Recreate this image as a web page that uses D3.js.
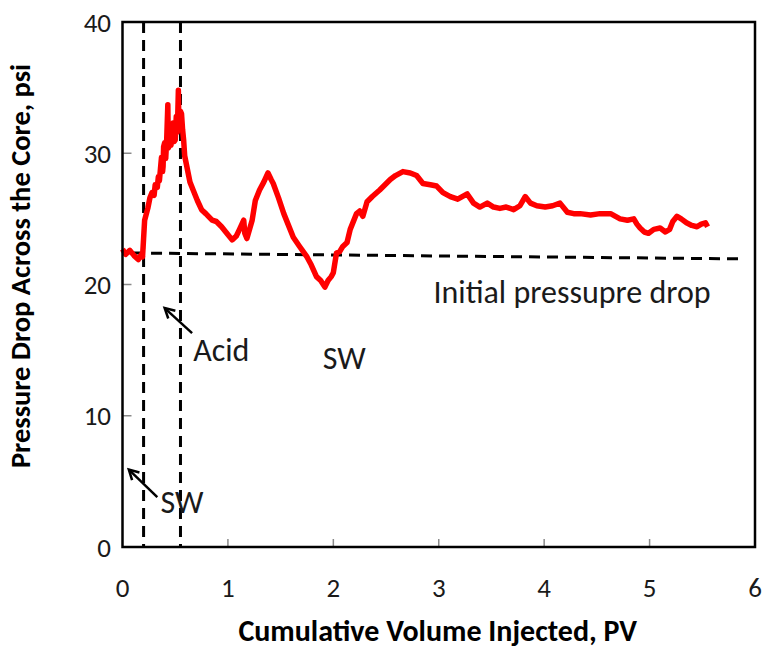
<!DOCTYPE html>
<html>
<head>
<meta charset="utf-8" />
<title>Pressure drop</title>
<script src="https://d3js.org/d3.v7.min.js"></script>
<style>
  body { margin: 0; background: #fff; }
  text { font-family: Carlito, Lato, "Noto Sans", sans-serif; fill: #1a1a1a; }
</style>
</head>
<body>
<div id="chart"></div>
<script>
// cumulative volume injected (PV) and pressure drop (psi)
var pv = [0.00,0.03,0.07,0.11,0.15,0.18,0.19,0.20,0.21,0.24,0.26,0.28,0.30,0.31,0.33,0.34,0.35,0.36,0.37,0.38,0.385,0.39,0.40,0.41,0.42,0.43,0.435,0.44,0.45,0.46,0.47,0.48,0.49,0.50,0.51,0.52,0.53,0.535,0.54,0.55,0.56,0.57,0.58,0.59,0.61,0.64,0.67,0.71,0.75,0.79,0.85,0.89,0.94,0.98,1.04,1.08,1.11,1.15,1.16,1.18,1.23,1.26,1.30,1.34,1.38,1.41,1.43,1.48,1.53,1.57,1.62,1.68,1.75,1.79,1.84,1.88,1.92,1.95,1.98,2.00,2.03,2.06,2.09,2.13,2.16,2.22,2.25,2.28,2.32,2.37,2.44,2.49,2.54,2.59,2.66,2.73,2.79,2.85,2.92,2.98,3.04,3.11,3.18,3.27,3.33,3.39,3.46,3.52,3.58,3.64,3.71,3.77,3.82,3.87,3.93,4.01,4.08,4.15,4.22,4.28,4.34,4.44,4.53,4.63,4.72,4.79,4.85,4.88,4.91,4.95,4.99,5.04,5.10,5.15,5.19,5.22,5.26,5.30,5.35,5.40,5.45,5.49,5.53,5.55];
var psi = [22.7,22.3,22.6,22.2,21.9,22.3,22.1,23.5,24.9,25.8,26.6,27.0,26.8,27.6,27.4,28.2,27.9,28.8,29.7,28.6,29.0,30.5,30.8,29.6,31.2,33.7,30.4,30.5,31.8,30.6,31.5,32.3,30.9,31.0,32.8,31.6,34.8,32.0,32.0,33.2,33.0,31.8,31.0,29.8,29.0,27.8,27.2,26.4,25.7,25.4,24.9,24.8,24.4,24.0,23.4,23.7,24.2,24.9,23.9,23.5,24.9,26.4,27.2,27.8,28.5,28.0,27.7,26.6,25.4,24.6,23.6,22.9,22.1,21.5,20.6,20.3,19.8,20.3,20.6,20.9,22.4,22.5,22.9,23.2,24.2,25.4,25.6,25.2,26.3,26.7,27.2,27.6,28.0,28.3,28.6,28.5,28.3,27.7,27.6,27.5,27.0,26.7,26.5,26.9,26.2,25.9,26.2,25.9,25.8,25.9,25.7,26.0,26.7,26.2,26.0,25.9,26.0,26.2,25.5,25.4,25.4,25.3,25.4,25.4,25.0,24.9,25.0,24.6,24.3,24.0,23.9,24.2,24.3,24.0,24.2,24.8,25.2,25.0,24.7,24.5,24.4,24.6,24.7,24.4];

var xTicks = [0,1,2,3,4,5,6];
var yTicks = [0,10,20,30,40];

// reference lines: switch points (PV) and initial pressure drop
var switchPV = [0.20, 0.55];
var baseLine = [[0.10, 22.4], [5.90, 21.95]];

var labels = [
  {text: "Initial pressupre drop", x: 2.95, y: 18.6},
  {text: "Acid", x: 0.67, y: 14.2},
  {text: "SW", x: 1.90, y: 13.6},
  {text: "SW", x: 0.36, y: 2.6}
];
var arrows = [
  {from: [0.66, 16.3], to: [0.40, 18.2]},
  {from: [0.33, 3.8], to: [0.06, 5.9]}
];

var width = 766, height = 648;
var x = d3.scaleLinear().domain([0, 6]).range([122.5, 755]);
var y = d3.scaleLinear().domain([0, 40]).range([547, 22]);

var svg = d3.select("#chart").append("svg").attr("width", width).attr("height", height);

// ticks inside the plot
svg.selectAll(".yt").data(yTicks.slice(1, -1)).enter().append("line")
  .attr("x1", x(0)).attr("x2", x(0) + 9)
  .attr("y1", d => y(d)).attr("y2", d => y(d))
  .attr("stroke", "#8a8a8a").attr("stroke-width", 1.5);
svg.selectAll(".xt").data(xTicks.slice(1, -1)).enter().append("line")
  .attr("x1", d => x(d)).attr("x2", d => x(d))
  .attr("y1", y(0)).attr("y2", y(0) - 8)
  .attr("stroke", "#8a8a8a").attr("stroke-width", 1.5);

// tick labels
svg.selectAll(".yl").data(yTicks).enter().append("text")
  .attr("x", 111).attr("y", d => y(d)).attr("dy", "0.36em")
  .attr("text-anchor", "end").attr("font-size", 27)
  .text(d => d);
svg.selectAll(".xl").data(xTicks).enter().append("text")
  .attr("x", d => x(d)).attr("y", 597)
  .attr("text-anchor", "middle").attr("font-size", 27)
  .text(d => d);

// dashed reference lines
svg.selectAll(".vd").data(switchPV).enter().append("line")
  .attr("x1", d => x(d)).attr("x2", d => x(d))
  .attr("y1", y(40)).attr("y2", y(0))
  .attr("stroke", "#000").attr("stroke-width", 3).attr("stroke-dasharray", "11,7");
svg.append("line")
  .attr("x1", x(baseLine[0][0])).attr("y1", y(baseLine[0][1]))
  .attr("x2", x(baseLine[1][0])).attr("y2", y(baseLine[1][1]))
  .attr("stroke", "#000").attr("stroke-width", 3).attr("stroke-dasharray", "11,7");

// pressure curve
var line = d3.line().x((d, i) => x(pv[i])).y(d => y(d));
svg.append("path").datum(psi)
  .attr("d", line)
  .attr("fill", "none").attr("stroke", "#ff0000")
  .attr("stroke-width", 5.5).attr("stroke-linejoin", "round");

// plot border
svg.append("rect")
  .attr("x", x(0)).attr("y", y(40))
  .attr("width", x(6) - x(0)).attr("height", y(0) - y(40))
  .attr("fill", "none").attr("stroke", "#000").attr("stroke-width", 2.5);

// annotations
svg.selectAll(".lab").data(labels).enter().append("text")
  .attr("x", d => x(d.x)).attr("y", d => y(d.y))
  .attr("font-size", 32)
  .text(d => d.text);

// open arrowheads
var ag = svg.selectAll(".arr").data(arrows).enter().append("g");
ag.append("line")
  .attr("x1", d => x(d.from[0])).attr("y1", d => y(d.from[1]))
  .attr("x2", d => x(d.to[0])).attr("y2", d => y(d.to[1]))
  .attr("stroke", "#000").attr("stroke-width", 2.5);
ag.append("path")
  .attr("d", function(d) {
    var x1 = x(d.from[0]), y1 = y(d.from[1]), x2 = x(d.to[0]), y2 = y(d.to[1]);
    var a = Math.atan2(y2 - y1, x2 - x1), L = 11, w = 0.5;
    return "M" + (x2 - L * Math.cos(a - w)) + "," + (y2 - L * Math.sin(a - w)) +
      "L" + x2 + "," + y2 +
      "L" + (x2 - L * Math.cos(a + w)) + "," + (y2 - L * Math.sin(a + w));
  })
  .attr("fill", "none").attr("stroke", "#000").attr("stroke-width", 2.5);

// axis titles
svg.append("text")
  .attr("x", (x(0) + x(6)) / 2 - 1).attr("y", 641)
  .attr("text-anchor", "middle").attr("font-size", 30).attr("font-weight", "bold")
  .style("fill", "#000")
  .text("Cumulative Volume Injected, PV");
svg.append("text")
  .attr("transform", "translate(30,266) rotate(-90)")
  .attr("text-anchor", "middle").attr("font-size", 28.5).attr("font-weight", "bold")
  .style("fill", "#000")
  .text("Pressure Drop Across the Core, psi");
</script>
</body>
</html>
